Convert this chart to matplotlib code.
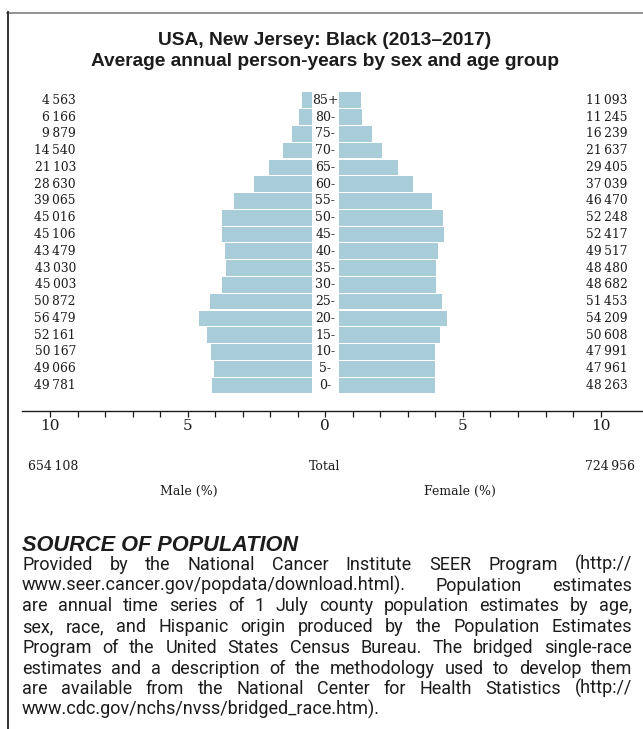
import matplotlib as mpl

mpl.use("Agg")

import matplotlib.pyplot as plt
from matplotlib import font_manager
from matplotlib.lines import Line2D

FIG_W, FIG_H = 643, 729

AGE_GROUPS = ["0-", "5-", "10-", "15-", "20-", "25-", "30-", "35-", "40-",
              "45-", "50-", "55-", "60-", "65-", "70-", "75-", "80-", "85+"]
MALE = [49781, 49066, 50167, 52161, 56479, 50872, 45003, 43030, 43479,
        45106, 45016, 39065, 28630, 21103, 14540, 9879, 6166, 4563]
FEMALE = [48263, 47961, 47991, 50608, 54209, 51453, 48682, 48480, 49517,
          52417, 52248, 46470, 37039, 29405, 21637, 16239, 11245, 11093]
MALE_TOTAL = 654108
FEMALE_TOTAL = 724956
TICK_VALUES = list(range(-10, 11))
TICK_LABELS = ["10", "5", "0", "5", "10"]

TITLE = ["USA, New Jersey: Black (2013\u20132017)",
         "Average annual person-years by sex and age group"]
SOURCE_HEAD = "SOURCE OF POPULATION"
SOURCE_LINES = [
    "Provided by the National Cancer Institute SEER Program (http://",
    "www.seer.cancer.gov/popdata/download.html). Population estimates",
    "are annual time series of 1 July county population estimates by age,",
    "sex, race, and Hispanic origin produced by the Population Estimates",
    "Program of the United States Census Bureau. The bridged single-race",
    "estimates and a description of the methodology used to develop them",
    "are available from the National Center for Health Statistics (http://",
    "www.cdc.gov/nchs/nvss/bridged_race.htm).",
]

BAR_COLOR = "#a8ccd8"
INK = "#1c1c1c"
GAP = 0.5  # half-width of the age label column, in % units


def pick_font(names):
    available = {f.name for f in font_manager.fontManager.ttflist}
    for name in names:
        if name in available:
            return name
    return "DejaVu Sans"


SANS = pick_font(["Liberation Sans", "Roboto", "DejaVu Sans"])
BODY = pick_font(["Roboto", "Liberation Sans", "DejaVu Sans"])
SERIF = pick_font(["DejaVu Serif", "Liberation Serif"])


def fx(x):
    return x / FIG_W


def fy(y):
    return 1 - y / FIG_H


def fmt(v):
    return f"{v:,}".replace(",", "\u2009")


def text_width(fig, renderer, s, size, family, **kw):
    t = fig.text(0, 0, s, fontsize=size, family=family, **kw)
    w = t.get_window_extent(renderer).width
    t.remove()
    return w


def space_width(fig, renderer, size, family):
    return (text_width(fig, renderer, "a a", size, family)
            - text_width(fig, renderer, "aa", size, family))


def justify(fig, renderer, lines, x0, width, baselines, size, family):
    for i, line in enumerate(lines):
        words = line.split(" ")
        texts = [fig.text(0, fy(baselines[i]), w, fontsize=size, family=family,
                          color=INK, va="baseline", ha="left") for w in words]
        widths = [t.get_window_extent(renderer).width for t in texts]
        if i == len(lines) - 1 or len(words) == 1:
            gap = space_width(fig, renderer, size, family)
        else:
            gap = (width - sum(widths)) / (len(words) - 1)
        x = x0
        for t, w in zip(texts, widths):
            t.set_x(fx(x))
            x += w + gap


total = MALE_TOTAL + FEMALE_TOTAL
male_pct = [v / total * 100 for v in MALE]
female_pct = [v / total * 100 for v in FEMALE]
ypos = list(range(len(AGE_GROUPS)))

fig = plt.figure(figsize=(FIG_W / 100, FIG_H / 100), dpi=100, facecolor="white")
ax = fig.add_axes([fx(21.7), fy(410.7), 1 - fx(21.7), fy(85) - fy(410.7)])
ax.set_xlim(-11.03, 11.54)
ax.set_ylim(-1.5, 17.91)

ax.barh(ypos, [-p for p in male_pct], left=-GAP, height=0.93, color=BAR_COLOR, linewidth=0)
ax.barh(ypos, female_pct, left=GAP, height=0.93, color=BAR_COLOR, linewidth=0)

for y, age, m, f in zip(ypos, AGE_GROUPS, MALE, FEMALE):
    ax.text(0.0, y, age, ha="center", va="center", fontsize=9, family=SERIF, color=INK)
    ax.text(-9.06, y, fmt(m), ha="right", va="center", fontsize=8.8, family=SERIF, color=INK)
    ax.text(10.98, y, fmt(f), ha="right", va="center", fontsize=8.8, family=SERIF, color=INK)

for side in ["top", "left", "right"]:
    ax.spines[side].set_visible(False)
ax.spines["bottom"].set_linewidth(1.0)
ax.spines["bottom"].set_color(INK)
ax.set_yticks([])
ax.set_xticks(TICK_VALUES)
ax.set_xticklabels([TICK_LABELS[(v + 10) // 5] if v % 5 == 0 else "" for v in TICK_VALUES],
                   family=SERIF, fontsize=11, color=INK)
ax.tick_params(axis="x", length=4, width=0.9, color=INK, pad=2)

# totals and axis captions
fig.text(fx(28), fy(467), fmt(MALE_TOTAL), ha="left", va="center", fontsize=9, family=SERIF, color=INK)
fig.text(fx(325), fy(467), "Total", ha="center", va="center", fontsize=9, family=SERIF, color=INK)
fig.text(fx(635), fy(467), fmt(FEMALE_TOTAL), ha="right", va="center", fontsize=9, family=SERIF, color=INK)
fig.text(fx(189), fy(491), "Male (%)", ha="center", va="center", fontsize=9, family=SERIF, color=INK)
fig.text(fx(459.6), fy(491), "Female (%)", ha="center", va="center", fontsize=9, family=SERIF, color=INK)

renderer = fig.canvas.get_renderer()

# title, sized so the second line spans the same width as in the source
title_w = text_width(fig, renderer, TITLE[1], 10, SANS, fontweight="bold")
title_size = 10 * 469 / title_w
fig.text(fx(325), fy(45), TITLE[0], ha="center", va="baseline", fontsize=title_size,
         fontweight="bold", family=SANS, color=INK)
fig.text(fx(325), fy(66), TITLE[1], ha="center", va="baseline", fontsize=title_size,
         fontweight="bold", family=SANS, color=INK)

# source block, justified
head_w = text_width(fig, renderer, SOURCE_HEAD, 10, SANS, fontweight="bold", style="italic")
fig.text(fx(22), fy(551), SOURCE_HEAD, ha="left", va="baseline", family=SANS,
         fontsize=10 * 276 / head_w, fontweight="bold", style="italic", color=INK)

body_x0, body_w = 22, 610
sp = space_width(fig, renderer, 10, BODY)
natural = max(sum(text_width(fig, renderer, w, 10, BODY) for w in ln.split(" "))
              + sp * (len(ln.split(" ")) - 1) for ln in SOURCE_LINES[:-1])
body_size = min(13.0, 10 * body_w / natural * 0.995)
baselines = [570 + 20.7 * i for i in range(len(SOURCE_LINES))]
justify(fig, renderer, SOURCE_LINES, body_x0, body_w, baselines, body_size, BODY)

# frame: grey top rule, dark left rule
fig.add_artist(Line2D([fx(7), 1], [fy(12.5), fy(12.5)], color="#8a8a8a", linewidth=1.3,
                      transform=fig.transFigure))
fig.add_artist(Line2D([fx(7.5), fx(7.5)], [fy(12), 0], color="#222222", linewidth=1.3,
                      transform=fig.transFigure))

fig.savefig("out.png", dpi=100)
